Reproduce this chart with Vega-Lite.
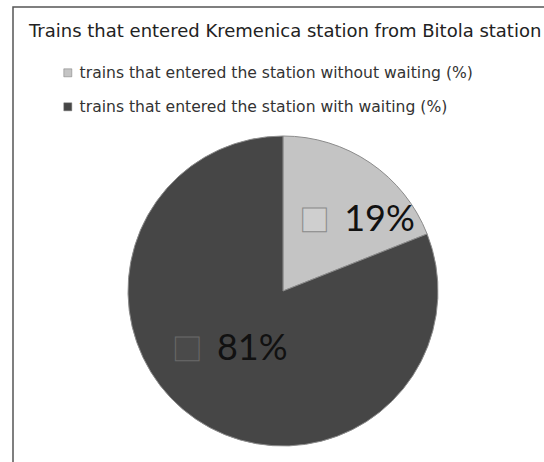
{
  "$schema": "https://vega.github.io/schema/vega-lite/v6.json",
  "autosize": "none",
  "width": 540,
  "height": 568,
  "padding": {"left": 13, "top": 7, "right": -9, "bottom": -113},
  "background": "white",
  "config": {
    "view": {"stroke": null},
    "font": "DejaVu Sans"
  },
  "title": {
    "text": "Trains that entered Kremenica station from Bitola station",
    "anchor": "start",
    "frame": "group",
    "orient": "top",
    "offset": -49,
    "baseline": "alphabetic",
    "dx": 16,
    "fontSize": 18,
    "fontWeight": "normal",
    "color": "#222222",
    "font": "DejaVu Sans"
  },
  "data": {
    "values": [
      {"cat": "trains that entered the station without waiting (%)", "pct": 19, "label": "19%"},
      {"cat": "trains that entered the station with waiting (%)", "pct": 81, "label": "81%"}
    ]
  },
  "encoding": {
    "theta": {"field": "pct", "type": "quantitative", "stack": true},
    "order": {"field": "cat", "sort": "descending"}
  },
  "layer": [
    {
      "data": {"values": [{}]},
      "mark": {"type": "rect", "filled": false, "stroke": "#555555", "strokeWidth": 1.5},
      "encoding": {"theta": null, "order": null}
    },
    {
      "mark": {"type": "arc", "outerRadius": 155, "stroke": "#8c8c8c", "strokeWidth": 1},
      "encoding": {
        "color": {
          "field": "cat",
          "type": "nominal",
          "sort": "descending",
          "scale": {"range": ["#c4c4c4", "#464646"]},
          "legend": {
            "title": null,
            "orient": "none",
            "legendX": 47,
            "legendY": 58,
            "direction": "vertical",
            "symbolType": "square",
            "symbolSize": 64,
            "symbolStrokeColor": "#777777",
            "symbolStrokeWidth": 0.5,
            "labelFontSize": 15.6,
            "labelColor": "#333333",
            "labelFont": "DejaVu Sans",
            "labelLimit": 500,
            "labelOffset": 4,
            "rowPadding": 17
          }
        }
      }
    },
    {
      "mark": {"type": "text", "radius": 88, "dx": -18, "dy": 1, "font": "DejaVu Sans", "fontSize": 31, "fill": "#cfcfcf", "stroke": "#8a8a8a", "strokeWidth": 1},
      "encoding": {
        "detail": {"field": "cat"},
        "text": {"condition": {"test": "datum.pct === 19", "value": "■"}, "value": ""}
      }
    },
    {
      "mark": {"type": "text", "radius": 88, "dx": 47, "dy": 2, "font": "Lato", "fontSize": 36, "fill": "#111111"},
      "encoding": {
        "detail": {"field": "cat"},
        "text": {"condition": {"test": "datum.pct === 19", "field": "label"}, "value": ""}
      }
    },
    {
      "mark": {"type": "text", "radius": 69, "dx": -57, "font": "DejaVu Sans", "fontSize": 31, "fill": "#4a4a4a", "stroke": "#6a6a6a", "strokeWidth": 1},
      "encoding": {
        "detail": {"field": "cat"},
        "text": {"condition": {"test": "datum.pct === 81", "value": "■"}, "value": ""}
      }
    },
    {
      "mark": {"type": "text", "radius": 69, "dx": 8, "dy": 1, "font": "Lato", "fontSize": 36, "fill": "#111111"},
      "encoding": {
        "detail": {"field": "cat"},
        "text": {"condition": {"test": "datum.pct === 81", "field": "label"}, "value": ""}
      }
    }
  ]
}
